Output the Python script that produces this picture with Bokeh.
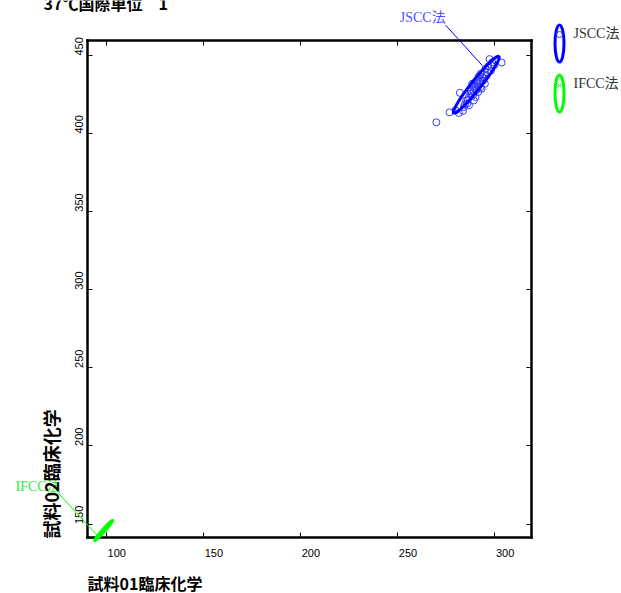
import numpy as np
from bokeh.plotting import figure
from bokeh.models import (Range1d, LinearAxis, Label, LabelSet, ColumnDataSource,
                          Arrow, FixedTicker)
from bokeh.layouts import row
from bokeh.embed import file_html
from bokeh.resources import INLINE
from bokeh.core.properties import value

# ---- texts -------------------------------------------------------------
title_text = "37℃国際単位　1"
x_label = "試料01臨床化学"
y_label = "試料02臨床化学"
series_names = ["JSCC法", "IFCC法"]
x_ticks = [100, 150, 200, 250, 300]
y_ticks = [150, 200, 250, 300, 350, 400, 450]

# ---- measurements: sample 01 (x) vs sample 02 (y) ---------------------
jscc_x = [269.8, 276.6, 281.4, 281.9, 283.5, 284.5, 285.2, 286.6, 288.8, 290.0,
          288.3, 290.9, 292.1, 293.4, 294.3, 294.8, 296.0, 297.2, 298.6, 300.3,
          303.4, 297.9, 295.2, 292.6, 287.4, 285.7, 289.1, 291.4, 290.0, 293.1,
          293.8, 291.7, 296.5, 299.5, 284.0, 279.7, 286.6, 288.6, 290.9, 292.6,
          287.5, 289.5, 291.0, 292.5, 288.0, 290.5, 294.0, 295.5, 286.0, 289.0]
jscc_y = [407.2, 413.6, 413.2, 426.1, 414.6, 418.7, 421.2, 423.4, 427.6, 430.2,
          431.9, 434.0, 433.0, 436.2, 437.9, 431.9, 439.3, 447.7, 445.7, 446.8,
          445.5, 440.4, 441.5, 429.8, 425.5, 419.1, 421.2, 426.6, 423.4, 428.7,
          434.0, 436.6, 443.0, 443.6, 417.0, 414.9, 418.1, 424.4, 431.9, 438.3,
          427.0, 429.0, 431.0, 433.5, 425.5, 428.0, 435.5, 437.0, 421.5, 430.5]
ifcc_x = [95.8, 96.9, 97.6, 98.3, 99.0, 99.8, 100.6, 101.4, 97.2, 99.5]
ifcc_y = [142.3, 143.6, 144.9, 145.7, 146.6, 147.6, 148.7, 149.8, 144.0, 147.3]

# confidence ellipses: centre, semi-major vector, semi-minor vector (data units)
jscc_center = [290.4, 431.3]
jscc_major = [11.6, 18.1]
jscc_minor = [1.9, -1.9]
ifcc_center = [98.5, 145.9]
ifcc_major = [4.6, 6.4]
ifcc_minor = [0.46, -0.51]

# ---- colours / fonts ----------------------------------------------------
BLUE = "#0000ff"
BLUE_PT = "#3a3aff"
BLUE_TXT = "#5050ff"
GREEN = "#00ff00"
GREEN_TXT = "#33ee33"
TICK_FONT = "'Liberation Sans Narrow', 'Liberation Sans', sans-serif"
SERIF = "'Liberation Serif', 'Noto Sans CJK JP', serif"
GOTHIC = "Noto Sans CJK JP"

# ---- layout -------------------------------------------------------------
W, H = 545, 593
BOX_L, BOX_R, BOX_T, BOX_B = 87, 531, 40, 537   # plotting box edges, px
X0, X1 = 90.2, 318.8                             # value limits of the box
Y0, Y1 = 141.4, 459.6
SX = (BOX_R - BOX_L) / (X1 - X0)   # px per x unit
SY = (BOX_B - BOX_T) / (Y1 - Y0)   # px per y unit


def ellipse_path(center, major, minor, n=181):
    t = np.linspace(0, 2 * np.pi, n)
    xs = center[0] + major[0] * np.cos(t) + minor[0] * np.sin(t)
    ys = center[1] + major[1] * np.cos(t) + minor[1] * np.sin(t)
    return xs, ys


def shifted(center, dx_px, dy_px):
    """Data position lying dx/dy screen pixels away from a data point."""
    return center[0] + dx_px / SX, center[1] + dy_px / SY


# the frame spans the whole canvas; the box is drawn by axes pinned to its edges
p = figure(width=W, height=H,
           x_range=Range1d(X0 - BOX_L / SX, X1 + (W - BOX_R) / SX),
           y_range=Range1d(Y0 - (H - BOX_B) / SY, Y1 + BOX_T / SY),
           output_backend="svg", toolbar_location=None, title_location=None,
           x_axis_location=None, y_axis_location=None,
           min_border=0, min_border_left=0, min_border_right=0,
           min_border_top=0, min_border_bottom=0)
p.grid.visible = False
p.outline_line_color = None
p.background_fill_color = "white"
p.border_fill_color = "white"


def box_axis(side, loc, bounds, ticks):
    ax = LinearAxis(fixed_location=loc, bounds=bounds,
                    ticker=FixedTicker(ticks=ticks))
    ax.minor_tick_line_color = None
    ax.major_tick_in = 5
    ax.major_tick_out = 0
    ax.major_tick_line_width = 1
    ax.major_tick_line_color = "black"
    ax.axis_line_width = 2.5
    ax.axis_line_color = "black"
    ax.axis_line_cap = "square"
    ax.major_label_text_font_size = "0px"
    ax.major_label_text_color = None
    p.add_layout(ax, side)
    return ax


box_axis("below", Y0, (X0, X1), x_ticks)
box_axis("above", Y1, (X0, X1), x_ticks)
box_axis("left", X0, (Y0, Y1), y_ticks)
box_axis("right", X1, (Y0, Y1), y_ticks)

# tick labels, starting at each tick
xt = ColumnDataSource(dict(x=x_ticks, y=[Y0] * len(x_ticks),
                           text=[str(t) for t in x_ticks]))
p.add_layout(LabelSet(x="x", y="y", text="text", source=xt, x_offset=1, y_offset=-15,
                      text_align="left", text_baseline="middle",
                      text_font=value(TICK_FONT), text_font_size="11px",
                      text_color="black"))
yt = ColumnDataSource(dict(x=[X0] * len(y_ticks), y=y_ticks,
                           text=[str(t) for t in y_ticks]))
p.add_layout(LabelSet(x="x", y="y", text="text", source=yt, x_offset=-8.7, y_offset=0,
                      angle=np.pi / 2, text_align="left", text_baseline="middle",
                      text_font=value(TICK_FONT), text_font_size="11px",
                      text_color="black"))

# data
p.scatter(ifcc_x, ifcc_y, marker="x", size=5, line_color=GREEN, line_width=1)
ex, ey = ellipse_path(ifcc_center, ifcc_major, ifcc_minor)
p.patch(ex, ey, fill_color=GREEN, line_color=GREEN, line_width=3, level="annotation")

p.scatter(jscc_x, jscc_y, marker="circle", size=7, fill_color=None,
          line_color=BLUE_PT, line_width=1)
ex, ey = ellipse_path(jscc_center, jscc_major, jscc_minor)
p.line(ex, ey, line_color=BLUE, line_width=3)

# series callouts with leader lines
lx, ly = shifted(jscc_center, -30.7, 67.2)
p.add_layout(Label(x=lx, y=ly, text=series_names[0], text_align="right",
                   text_baseline="middle", text_font=SERIF, text_font_size="14px",
                   text_color=BLUE_TXT))
sx0, sy0 = shifted(jscc_center, -30.7, 59.5)
sx1, sy1 = shifted(jscc_center, 6.0, 19.2)
p.add_layout(Arrow(end=None, x_start=sx0, y_start=sy0, x_end=sx1, y_end=sy1,
                   line_color=BLUE, line_width=1))

lx, ly = shifted(ifcc_center, -43.0, 44.0)
p.add_layout(Label(x=lx, y=ly, text=series_names[1], text_align="right",
                   text_baseline="middle", text_font=SERIF, text_font_size="14px",
                   text_color=GREEN_TXT))
sx0, sy0 = shifted(ifcc_center, -46.0, 38.0)
sx1, sy1 = shifted(ifcc_center, -5.0, -6.3)
p.add_layout(Arrow(end=None, x_start=sx0, y_start=sy0, x_end=sx1, y_end=sy1,
                   line_color=GREEN, line_width=1))

# title and axis titles
p.add_layout(Label(x=X0, y=Y1, x_offset=-44, y_offset=37.5, text=title_text,
                   text_align="left", text_baseline="middle", text_font=GOTHIC,
                   text_font_size="16px", text_font_style="bold", text_color="black"))
p.add_layout(Label(x=X0, y=Y0, x_offset=0, y_offset=-45, text=x_label,
                   text_align="left", text_baseline="middle", text_font=GOTHIC,
                   text_font_size="16px", text_font_style="bold", text_color="black"))
p.add_layout(Label(x=X0, y=Y0, x_offset=-36.5, y_offset=-1, text=y_label,
                   angle=np.pi / 2, text_align="left", text_baseline="middle",
                   text_font=GOTHIC, text_font_size="18px", text_font_style="bold",
                   text_color="black"))

# ---- legend panel -------------------------------------------------------
LW = 621 - W
leg = figure(width=LW, height=H, x_range=Range1d(0, LW), y_range=Range1d(H, 0),
             output_backend="svg", toolbar_location=None, title_location=None,
             min_border=0, min_border_left=0, min_border_right=0,
             min_border_top=0, min_border_bottom=0,
             x_axis_location=None, y_axis_location=None)
leg.grid.visible = False
leg.outline_line_color = None
leg.border_fill_color = "white"

leg.ellipse(x=[14], y=[43], width=9, height=37, fill_color=None,
            line_color=BLUE, line_width=3)
leg.scatter(x=[14], y=[34], marker="circle", size=6, fill_color=None,
            line_color=BLUE_PT, line_width=1)
leg.ellipse(x=[14], y=[93], width=9, height=37, fill_color=None,
            line_color=GREEN, line_width=3)
leg.scatter(x=[14], y=[85], marker="x", size=5, line_color=GREEN, line_width=1)
leg.text(x=[28, 28], y=[33, 83], text=series_names, text_align="left",
         text_baseline="middle", text_font=value(SERIF), text_font_size="14px",
         text_color="#333333")

layout = row(p, leg)
open("out.html", "w").write(file_html(layout, INLINE, title=title_text))
